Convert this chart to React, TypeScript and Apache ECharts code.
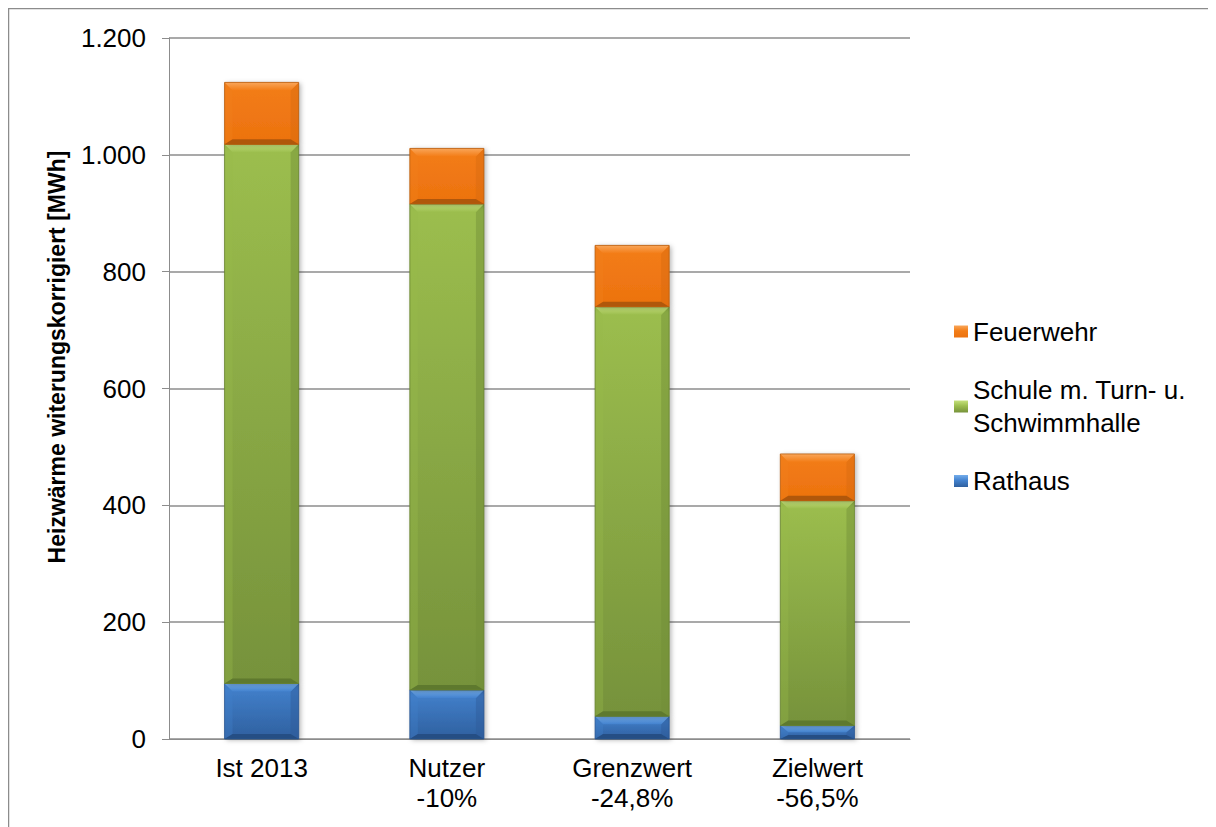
import React, { useEffect, useRef } from 'react';
import * as echarts from 'echarts';

// Categories (scenarios) and heating demand per building, in MWh
const categories = ['Ist 2013', 'Nutzer\n-10%', 'Grenzwert\n-24,8%', 'Zielwert\n-56,5%'];
const rathaus = [95, 84, 39, 23];
const schule = [923, 832, 701, 385];
const feuerwehr = [106, 95, 105, 80];

const yMin = 0;
const yMax = 1200;
const yInterval = 200;

const SCHULE = 'Schule m. Turn- u.\nSchwimmhalle';
const FONT = "'Liberation Sans', Arial, Helvetica, sans-serif";

type Shade = {
  faceTop: string;
  faceBottom: string;
  top: string;
  left: string;
  right: string;
  bottom: string;
  edge: string;
};

const shades: Record<string, Shade> = {
  Rathaus: {
    faceTop: '#4382CE', faceBottom: '#2F609F', top: '#74ADEB', left: '#4280CB',
    right: '#2E5C98', bottom: '#254E84', edge: '#2A5590',
  },
  [SCHULE]: {
    faceTop: '#9CBE4E', faceBottom: '#76923B', top: '#C6E27D', left: '#98B94B',
    right: '#728E38', bottom: '#5E792E', edge: '#67822F',
  },
  Feuerwehr: {
    faceTop: '#F37D17', faceBottom: '#EC720F', top: '#F9A65A', left: '#F2801C',
    right: '#D86A10', bottom: '#B0570B', edge: '#B85C0C',
  },
};

// stacked segments: [categoryIndex, base, top]
function stackRows(values: number[], bases: number[]) {
  return values.map((v, i) => [i, bases[i], bases[i] + v]);
}
const base0 = categories.map(() => 0);
const base1 = rathaus.map((v, i) => base0[i] + v);
const base2 = schule.map((v, i) => base1[i] + v);

function bevelBar(shade: Shade) {
  return (params: any, api: any) => {
    const i = api.value(0);
    const lo = api.value(1);
    const hi = api.value(2);
    const p0 = api.coord([i, lo]);
    const p1 = api.coord([i, hi]);
    const w = api.size([1, 0])[0] * 0.4;
    const x0 = p0[0] - w / 2;
    const x1 = x0 + w;
    const yb = p0[1];
    const yt = p1[1];
    const h = yb - yt;
    const bt = Math.min(8, h * 0.5);
    const bb = Math.min(5, h * 0.3);
    const bs = Math.min(8, w / 2);
    return {
      type: 'group',
      children: [
        {
          type: 'rect',
          shape: { x: x0, y: yt, width: w, height: h },
          style: {
            fill: new echarts.graphic.LinearGradient(0, 0, 0, 1, [
              { offset: 0, color: shade.faceTop },
              { offset: 1, color: shade.faceBottom },
            ]),
            shadowBlur: 5,
            shadowOffsetX: 2,
            shadowOffsetY: 1,
            shadowColor: 'rgba(0,0,0,0.3)',
          },
        },
        {
          type: 'polygon',
          shape: { points: [[x0, yt], [x0 + bs, yt + bt], [x0 + bs, yb - bb], [x0, yb]] },
          style: { fill: shade.left, opacity: 0.35 },
        },
        {
          type: 'polygon',
          shape: { points: [[x1, yt], [x1 - bs, yt + bt], [x1 - bs, yb - bb], [x1, yb]] },
          style: { fill: shade.right, opacity: 0.45 },
        },
        {
          type: 'polygon',
          shape: { points: [[x0, yb], [x0 + bs, yb - bb], [x1 - bs, yb - bb], [x1, yb]] },
          style: { fill: shade.bottom },
        },
        {
          type: 'polygon',
          shape: { points: [[x0, yt], [x1, yt], [x1 - bs, yt + bt], [x0 + bs, yt + bt]] },
          style: {
            fill: new echarts.graphic.LinearGradient(0, 0, 0, 1, [
              { offset: 0, color: shade.top },
              { offset: 1, color: shade.faceTop },
            ]),
          },
        },
        {
          type: 'rect',
          shape: { x: x0, y: yt, width: w, height: h },
          style: { fill: 'none', stroke: shade.edge, lineWidth: 0.8 },
        },
      ],
    };
  };
}

function series(name: string, rows: number[][]) {
  const shade = shades[name];
  return {
    type: 'custom',
    name,
    data: rows,
    encode: { x: 0, y: [1, 2] },
    itemStyle: {
      color: new echarts.graphic.LinearGradient(0, 0, 0, 1, [
        { offset: 0, color: shade.top },
        { offset: 0.45, color: shade.faceTop },
        { offset: 1, color: shade.faceBottom },
      ]),
    },
    renderItem: bevelBar(shade),
  };
}

const legendCommon = {
  orient: 'vertical',
  left: 946,
  padding: 0,
  icon: 'rect',
  itemWidth: 14,
  itemHeight: 12,
  selectedMode: false,
};
const legendText = { fontFamily: FONT, fontSize: 26, lineHeight: 33, color: '#000' };

const germanThousands = (v: number) => String(v).replace(/\B(?=(\d{3})+(?!\d))/g, '.');

export default function App() {
  const ref = useRef<HTMLDivElement>(null);

  useEffect(() => {
    const chart = echarts.init(ref.current!, null, { renderer: 'svg' });
    chart.setOption({
      animation: false,
      backgroundColor: '#fff',
      textStyle: { fontFamily: FONT },
      grid: { left: 161, right: 306, top: 30, bottom: 88 },
      xAxis: {
        type: 'category',
        data: categories,
        axisLine: { lineStyle: { color: '#8c8c8c', width: 1 } },
        axisTick: { length: 7, lineStyle: { color: '#8c8c8c' } },
        axisLabel: { color: '#000', fontSize: 26, lineHeight: 30, margin: 14, fontFamily: FONT },
      },
      yAxis: {
        type: 'value',
        min: yMin,
        max: yMax,
        interval: yInterval,
        axisLine: { show: true, lineStyle: { color: '#8c8c8c', width: 1 } },
        axisTick: { show: true, length: 7, lineStyle: { color: '#8c8c8c' } },
        axisLabel: { color: '#000', fontSize: 26, margin: 23, fontFamily: FONT, formatter: germanThousands },
        splitLine: { lineStyle: { color: '#8c8c8c', width: 1.5 } },
      },
      legend: [
        { ...legendCommon, top: 307, data: ['Feuerwehr'], textStyle: legendText },
        {
          ...legendCommon,
          top: 349,
          data: [SCHULE],
          textStyle: { ...legendText, padding: [33, 0, 0, 0] },
        },
        { ...legendCommon, top: 456.5, data: ['Rathaus'], textStyle: legendText },
      ],
      graphic: [
        { type: 'line', shape: { x1: 0.5, y1: 0, x2: 0.5, y2: 819 }, style: { stroke: '#8c8c8c', lineWidth: 1.5 } },
        { type: 'line', shape: { x1: 0, y1: 0.5, x2: 1208, y2: 0.5 }, style: { stroke: '#8c8c8c', lineWidth: 1.5 } },
        {
          type: 'text',
          x: 49,
          y: 349,
          rotation: Math.PI / 2,
          style: {
            text: 'Heizwärme witerungskorrigiert [MWh]',
            fontFamily: FONT,
            fontSize: 23,
            fontWeight: 'bold',
            fill: '#000',
            align: 'center',
            verticalAlign: 'middle',
          },
        },
      ],
      series: [
        series('Rathaus', stackRows(rathaus, base0)),
        series(SCHULE, stackRows(schule, base1)),
        series('Feuerwehr', stackRows(feuerwehr, base2)),
      ],
    });
    return () => chart.dispose();
  }, []);

  return <div ref={ref} style={{ width: 1208, height: 819 }} />;
}
